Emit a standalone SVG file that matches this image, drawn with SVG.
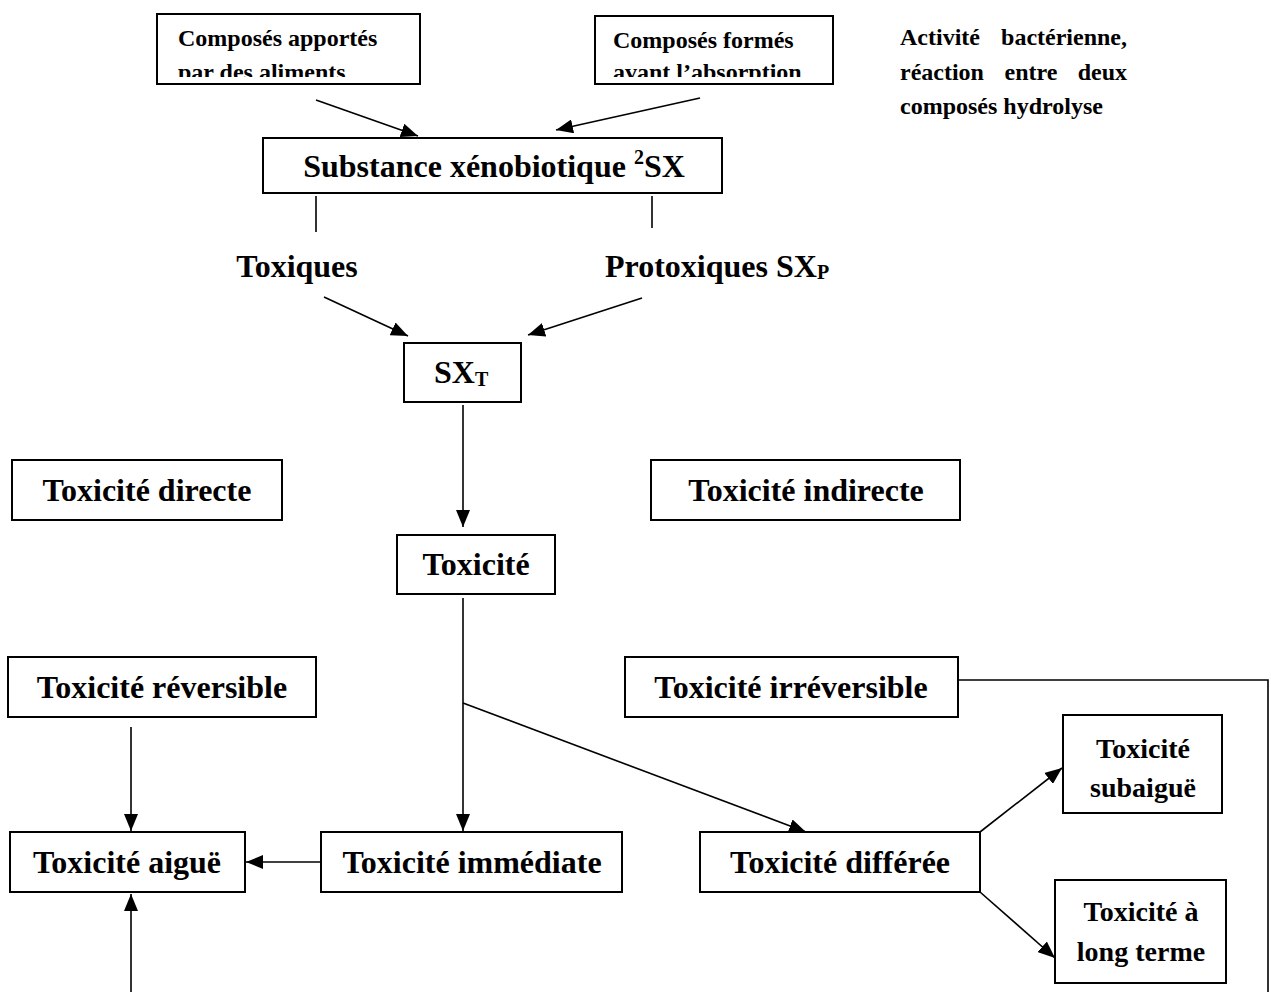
<svg xmlns="http://www.w3.org/2000/svg" width="1271" height="996" viewBox="0 0 1271 996">
<defs>
<style>
.box{fill:#fff;stroke:#000;stroke-width:2}
.t{font-family:"Liberation Serif","Times New Roman",serif;font-weight:bold;fill:#000}
.L{font-size:32px}
.M{font-size:28px}
.S{font-size:24px}
.ln{stroke:#000;stroke-width:1.6;fill:none}
</style>
<marker id="ahL" viewBox="0 0 17 14" refX="17" refY="7" markerWidth="17" markerHeight="14" markerUnits="userSpaceOnUse" orient="auto">
<path d="M0,0 L17,7 L0,14 z" fill="#000"/>
</marker>
<clipPath id="c1"><rect x="157" y="14" width="263" height="63"/></clipPath>
<clipPath id="c2"><rect x="595" y="16" width="238" height="61"/></clipPath>
</defs>

<g id="connectors">
<line class="ln" x1="316" y1="100" x2="418" y2="136" marker-end="url(#ahL)"/>
<line class="ln" x1="700" y1="98" x2="556" y2="130" marker-end="url(#ahL)"/>
<line class="ln" x1="316" y1="196" x2="316" y2="232"/>
<line class="ln" x1="652" y1="196" x2="652" y2="228"/>
<line class="ln" x1="324" y1="297" x2="408" y2="336" marker-end="url(#ahL)"/>
<line class="ln" x1="642" y1="298" x2="528" y2="335" marker-end="url(#ahL)"/>
<line class="ln" x1="463" y1="405" x2="463" y2="527" marker-end="url(#ahL)"/>
<line class="ln" x1="463" y1="598" x2="463" y2="831" marker-end="url(#ahL)"/>
<line class="ln" x1="463" y1="703" x2="806" y2="832" marker-end="url(#ahL)"/>
<polyline class="ln" points="958,680 1268,680 1268,992"/>
<line class="ln" x1="131" y1="727" x2="131" y2="831" marker-end="url(#ahL)"/>
<line class="ln" x1="320" y1="862" x2="246" y2="862" marker-end="url(#ahL)"/>
<line class="ln" x1="131" y1="992" x2="131" y2="894" marker-end="url(#ahL)"/>
<line class="ln" x1="980" y1="832" x2="1062" y2="768" marker-end="url(#ahL)"/>
<line class="ln" x1="980" y1="892" x2="1055" y2="958" marker-end="url(#ahL)"/>
</g>

<g id="n-apportes">
<rect class="box" x="157" y="14" width="263" height="70"/>
<g clip-path="url(#c1)">
<text class="t S" x="178" y="46">Composés apportés</text>
<text class="t S" x="178" y="80">par des aliments</text>
</g>
</g>

<g id="n-formes">
<rect class="box" x="595" y="16" width="238" height="68"/>
<g clip-path="url(#c2)">
<text class="t S" x="613" y="48">Composés formés</text>
<text class="t S" x="613" y="80">avant l’absorption</text>
</g>
</g>

<g id="n-activite">
<text class="t S" x="900" y="45">Activité</text>
<text class="t S" x="1127" y="45" text-anchor="end">bactérienne,</text>
<text class="t S" x="900" y="80">réaction</text>
<text class="t S" x="1031" y="80" text-anchor="middle">entre</text>
<text class="t S" x="1127" y="80" text-anchor="end">deux</text>
<text class="t S" x="900" y="114">composés hydrolyse</text>
</g>

<g id="n-substance">
<rect class="box" x="263" y="138" width="459" height="55"/>
<text class="t L" x="494" y="177" text-anchor="middle">Substance xénobiotique <tspan font-size="20" dy="-13">2</tspan><tspan dy="13">SX</tspan></text>
</g>

<g id="n-toxiques">
<text class="t L" x="297" y="277" text-anchor="middle">Toxiques</text>
</g>

<g id="n-protoxiques">
<text class="t L" x="605" y="277">Protoxiques SX<tspan font-size="20" dy="2">P</tspan></text>
</g>

<g id="n-sxt">
<rect class="box" x="404" y="343" width="117" height="59"/>
<text class="t L" x="434" y="383">SX<tspan font-size="20" dy="3">T</tspan></text>
</g>

<g id="n-directe">
<rect class="box" x="12" y="460" width="270" height="60"/>
<text class="t L" x="147" y="501" text-anchor="middle">Toxicité directe</text>
</g>

<g id="n-indirecte">
<rect class="box" x="651" y="460" width="309" height="60"/>
<text class="t L" x="806" y="501" text-anchor="middle">Toxicité indirecte</text>
</g>

<g id="n-toxicite">
<rect class="box" x="397" y="535" width="158" height="59"/>
<text class="t L" x="476" y="575" text-anchor="middle">Toxicité</text>
</g>

<g id="n-reversible">
<rect class="box" x="8" y="657" width="308" height="60"/>
<text class="t L" x="162" y="698" text-anchor="middle">Toxicité réversible</text>
</g>

<g id="n-irreversible">
<rect class="box" x="625" y="657" width="333" height="60"/>
<text class="t L" x="791" y="698" text-anchor="middle">Toxicité irréversible</text>
</g>

<g id="n-aigue">
<rect class="box" x="10" y="832" width="235" height="60"/>
<text class="t L" x="127" y="873" text-anchor="middle">Toxicité aiguë</text>
</g>

<g id="n-immediate">
<rect class="box" x="321" y="832" width="301" height="60"/>
<text class="t L" x="472" y="873" text-anchor="middle">Toxicité immédiate</text>
</g>

<g id="n-differee">
<rect class="box" x="700" y="832" width="280" height="60"/>
<text class="t L" x="840" y="873" text-anchor="middle">Toxicité différée</text>
</g>

<g id="n-subaigue">
<rect class="box" x="1063" y="715" width="159" height="98"/>
<text class="t M" x="1143" y="758" text-anchor="middle">Toxicité</text>
<text class="t M" x="1143" y="797" text-anchor="middle">subaiguë</text>
</g>

<g id="n-longterme">
<rect class="box" x="1055" y="880" width="171" height="103"/>
<text class="t M" x="1141" y="921" text-anchor="middle">Toxicité à</text>
<text class="t M" x="1141" y="961" text-anchor="middle">long terme</text>
</g>
</svg>
